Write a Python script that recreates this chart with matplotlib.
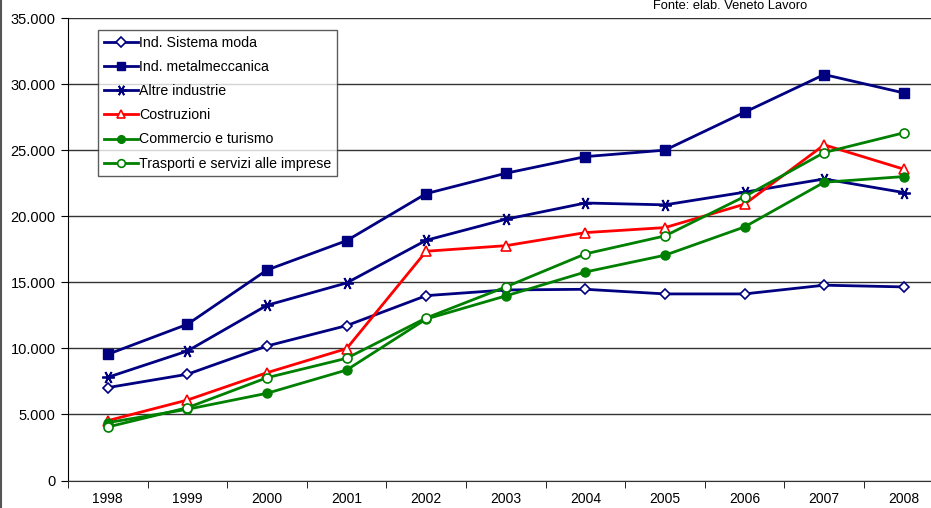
import matplotlib.pyplot as plt
from matplotlib.ticker import FuncFormatter, FixedLocator
from matplotlib.lines import Line2D

plt.rcParams['font.family'] = ['Liberation Sans', 'DejaVu Sans']

anni = ['1998', '1999', '2000', '2001', '2002', '2003', '2004', '2005', '2006', '2007', '2008']

sistema_moda = [7030, 8040, 10180, 11720, 13990, 14420, 14470, 14120, 14120, 14780, 14650]
metalmeccanica = [9550, 11820, 15930, 18150, 21710, 23250, 24510, 25000, 27870, 30720, 29330]
altre_industrie = [7810, 9800, 13260, 14950, 18180, 19770, 21000, 20860, 21820, 22820, 21790]
costruzioni = [4530, 6090, 8160, 9980, 17350, 17770, 18760, 19140, 20910, 25400, 23560]
commercio = [4380, 5390, 6600, 8360, 12220, 13970, 15780, 17050, 19190, 22570, 23000]
trasporti = [4050, 5510, 7780, 9250, 12300, 14650, 17150, 18510, 21490, 24820, 26310]

navy = '#000080'
red = '#FF0000'
green = '#008000'

fig = plt.figure(figsize=(9.31, 5.08), dpi=100)
ax = fig.add_axes([68 / 931, 27.5 / 508, 1 - 68 / 931, 462.5 / 508])

x = list(range(len(anni)))
lw = 2
ax.plot(x, sistema_moda, color=navy, lw=lw, marker='D', ms=5.5, mfc='white', mec=navy, mew=1.2,
        label='Ind. Sistema moda')
ax.plot(x, metalmeccanica, color=navy, lw=lw, marker='s', ms=6.5, mfc=navy, mec=navy,
        label='Ind. metalmeccanica')
ax.plot(x, altre_industrie, color=navy, lw=lw, marker=(6, 2, 90), ms=9, mec=navy, mew=1.3,
        label='Altre industrie')
ax.plot(x, costruzioni, color=red, lw=lw, marker='^', ms=7, mfc='white', mec=red, mew=1.2,
        label='Costruzioni')
ax.plot(x, commercio, color=green, lw=lw, marker='o', ms=6.5, mfc=green, mec=green,
        label='Commercio e turismo')
ax.plot(x, trasporti, color=green, lw=lw, marker='o', ms=6.5, mfc='white', mec=green, mew=1.2,
        label='Trasporti e servizi alle imprese')

ax.set_xlim(-0.5, -0.5 + 863 / 79.6)
ax.set_ylim(0, 35000)
ax.set_yticks(range(0, 35001, 5000))
ax.yaxis.set_major_formatter(FuncFormatter(lambda v, p: '{:,.0f}'.format(v).replace(',', '.')))
ax.grid(axis='y', color='#333333', lw=1)
ax.set_axisbelow(True)

ax.set_xticks(x)
ax.set_xticklabels(anni)
ax.xaxis.set_minor_locator(FixedLocator([i - 0.5 for i in range(len(anni) + 1)]))
ax.tick_params(axis='x', which='major', length=0, pad=8.5, labelsize=10)
ax.tick_params(axis='x', which='minor', length=5, direction='out', color='black')
ax.tick_params(axis='y', length=5, direction='out', labelsize=10.5, pad=4)

for s in ['top', 'right']:
    ax.spines[s].set_visible(False)
ax.spines['left'].set_color('black')
ax.spines['bottom'].set_color('#333333')

leg = ax.legend(loc='upper left', bbox_to_anchor=(30 / 863, 1 - 12 / 462.5), fontsize=10.2,
                frameon=True, fancybox=False, handlelength=2.4, handletextpad=0.1,
                borderpad=0.4, labelspacing=0.72, borderaxespad=0, markerscale=0.85)
leg.get_frame().set_edgecolor('#333333')
leg.get_frame().set_linewidth(1)

fig.text(730 / 931, 1 - 6 / 508, 'Fonte: elab. Veneto Lavoro', ha='center', va='center', fontsize=9.3)
fig.add_artist(Line2D([0.5 / 931, 0.5 / 931], [0, 1], transform=fig.transFigure, color='#555555', lw=1.5))

plt.savefig('out.png', dpi=100)
